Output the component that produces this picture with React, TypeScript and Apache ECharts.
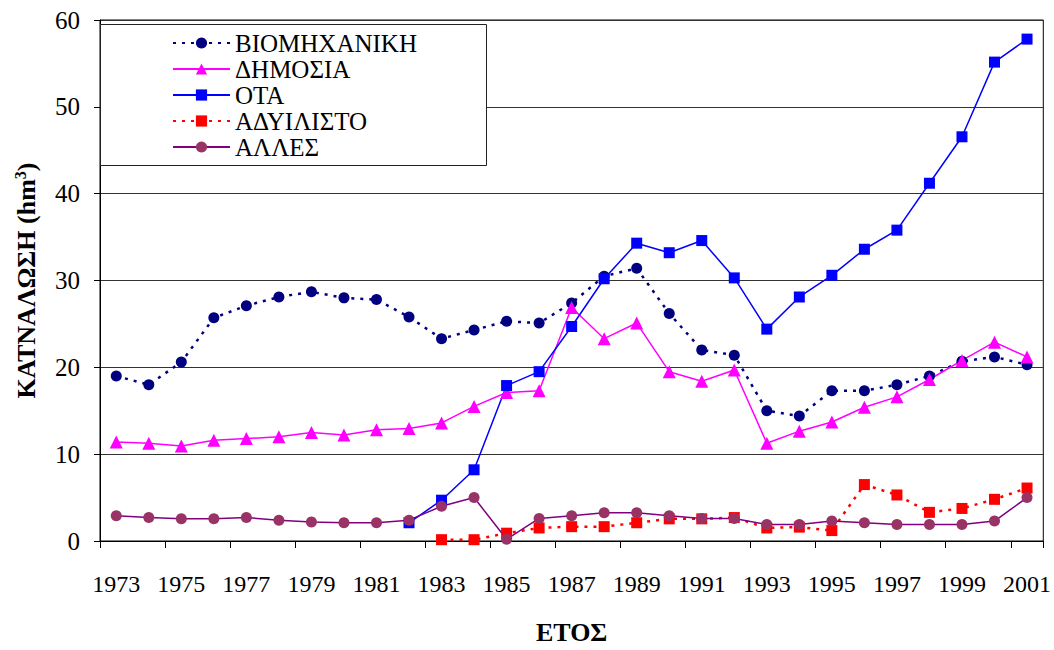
import React, { useEffect, useRef } from "react";
import * as echarts from "echarts";

const years = ["1973","1974","1975","1976","1977","1978","1979","1980","1981","1982","1983","1984","1985","1986","1987","1988","1989","1990","1991","1992","1993","1994","1995","1996","1997","1998","1999","2000","2001"];

const viomichaniki = [19.0, 18.0, 20.6, 25.7, 27.1, 28.1, 28.7, 28.0, 27.8, 25.8, 23.3, 24.3, 25.3, 25.1, 27.4, 30.5, 31.4, 26.2, 22.0, 21.4, 15.0, 14.4, 17.3, 17.3, 18.0, 19.0, 20.7, 21.2, 20.3];
const dimosia = [11.4, 11.25, 10.95, 11.6, 11.8, 12.0, 12.5, 12.2, 12.8, 12.95, 13.6, 15.5, 17.1, 17.3, 26.9, 23.3, 25.1, 19.5, 18.4, 19.7, 11.25, 12.65, 13.7, 15.4, 16.6, 18.6, 20.8, 22.9, 21.2];
const ota = [null, null, null, null, null, null, null, null, null, 2.1, 4.7, 8.2, 17.9, 19.5, 24.7, 30.2, 34.3, 33.2, 34.6, 30.3, 24.4, 28.1, 30.6, 33.6, 35.8, 41.2, 46.55, 55.15, 57.8];
const adyilisto = [null, null, null, null, null, null, null, null, null, null, 0.15, 0.15, 0.9, 1.5, 1.65, 1.65, 2.1, 2.55, 2.55, 2.7, 1.5, 1.6, 1.2, 6.5, 5.3, 3.3, 3.75, 4.8, 6.1];
const alles = [2.9, 2.7, 2.55, 2.55, 2.7, 2.4, 2.2, 2.1, 2.1, 2.4, 4.0, 5.0, 0.2, 2.6, 2.9, 3.25, 3.25, 2.9, 2.6, 2.6, 1.9, 1.9, 2.3, 2.1, 1.9, 1.9, 1.9, 2.3, 5.0];

const seriesNames = ["ΒΙΟΜΗΧΑΝΙΚΗ", "ΔΗΜΟΣΙΑ", "ΟΤΑ", "ΑΔΥΙΛΙΣΤΟ", "ΑΛΛΕΣ"];
const yTicks = { min: 0, max: 60, interval: 10 };

const FONT = "'Liberation Serif', 'Times New Roman', serif";

export default function App() {
  const ref = useRef<HTMLDivElement>(null);
  useEffect(() => {
    if (!ref.current) return;
    const chart = echarts.init(ref.current, null, { renderer: "svg" });
    const option = {
      animation: false,
      backgroundColor: "#ffffff",
      textStyle: { fontFamily: FONT, color: "#000" },
      grid: { left: 100, right: 9, top: 20, bottom: 102, show: true, borderColor: "#000", borderWidth: 1, containLabel: false },
      graphic: [
        {
          type: "rect",
          z: 3,
          shape: { x: 100.5, y: 24.5, width: 386, height: 141 },
          style: { fill: "#fff", stroke: "#222", lineWidth: 1 },
        },
      ],
      legend: {
        orient: "vertical",
        left: 172,
        top: 30,
        padding: 0,
        itemGap: 0,
        itemWidth: 57,
        itemHeight: 14,
        z: 5,
        data: seriesNames,
        textStyle: { fontFamily: FONT, fontSize: 25, color: "#000", lineHeight: 26 },
      },
      xAxis: {
        type: "category",
        data: years,
        boundaryGap: true,
        name: "ΕΤΟΣ",
        nameLocation: "middle",
        nameGap: 78,
        nameTextStyle: { fontFamily: FONT, fontSize: 26, fontWeight: "bold", color: "#000" },
        axisLine: { lineStyle: { color: "#000", width: 1 } },
        axisTick: { show: true, interval: 1, length: 7, inside: false, lineStyle: { color: "#000" } },
        axisLabel: { interval: 1, margin: 31, fontSize: 24, fontFamily: FONT, color: "#000" },
        splitLine: { show: false },
      },
      yAxis: {
        type: "value",
        min: yTicks.min,
        max: yTicks.max,
        interval: yTicks.interval,
        name: "ΚΑΤΝΑΛΩΣΗ (hm{sup|3})",
        nameLocation: "middle",
        nameGap: 60,
        nameTextStyle: {
          fontFamily: FONT,
          fontSize: 26,
          fontWeight: "bold",
          color: "#000",
          rich: { sup: { fontFamily: FONT, fontSize: 16, fontWeight: "bold", color: "#000", verticalAlign: "top", padding: [0, 0, 12, 0] } },
        },
        axisLine: { show: true, lineStyle: { color: "#000", width: 1 } },
        axisTick: { show: true, length: 6, inside: false, lineStyle: { color: "#000" } },
        axisLabel: { margin: 20, fontSize: 25, fontFamily: FONT, color: "#000" },
        splitLine: { show: true, lineStyle: { color: "#333", width: 1 } },
      },
      series: [
        {
          name: seriesNames[0],
          type: "line",
          data: viomichaniki,
          symbol: "circle",
          symbolSize: 11,
          itemStyle: { color: "#000080" },
          lineStyle: { color: "#000080", width: 2.5, type: [3, 6] },
        },
        {
          name: seriesNames[1],
          type: "line",
          data: dimosia,
          symbol: "triangle",
          symbolSize: 13,
          itemStyle: { color: "#FF00FF" },
          lineStyle: { color: "#FF00FF", width: 1.5, type: "solid" },
        },
        {
          name: seriesNames[2],
          type: "line",
          data: ota,
          symbol: "rect",
          symbolSize: 11,
          itemStyle: { color: "#0000FF" },
          lineStyle: { color: "#0000FF", width: 1.5, type: "solid" },
        },
        {
          name: seriesNames[3],
          type: "line",
          data: adyilisto,
          symbol: "rect",
          symbolSize: 11,
          itemStyle: { color: "#FF0000" },
          lineStyle: { color: "#FF0000", width: 2.5, type: [3, 6] },
        },
        {
          name: seriesNames[4],
          type: "line",
          data: alles,
          symbol: "circle",
          symbolSize: 11,
          itemStyle: { color: "#993366" },
          lineStyle: { color: "#800080", width: 1.5, type: "solid" },
        },
      ],
    };
    chart.setOption(option as any);
    return () => chart.dispose();
  }, []);
  return (
    <div
      ref={ref}
      style={{ position: "absolute", left: 0, top: 0, width: 1054, height: 650, background: "#fff" }}
    />
  );
}
